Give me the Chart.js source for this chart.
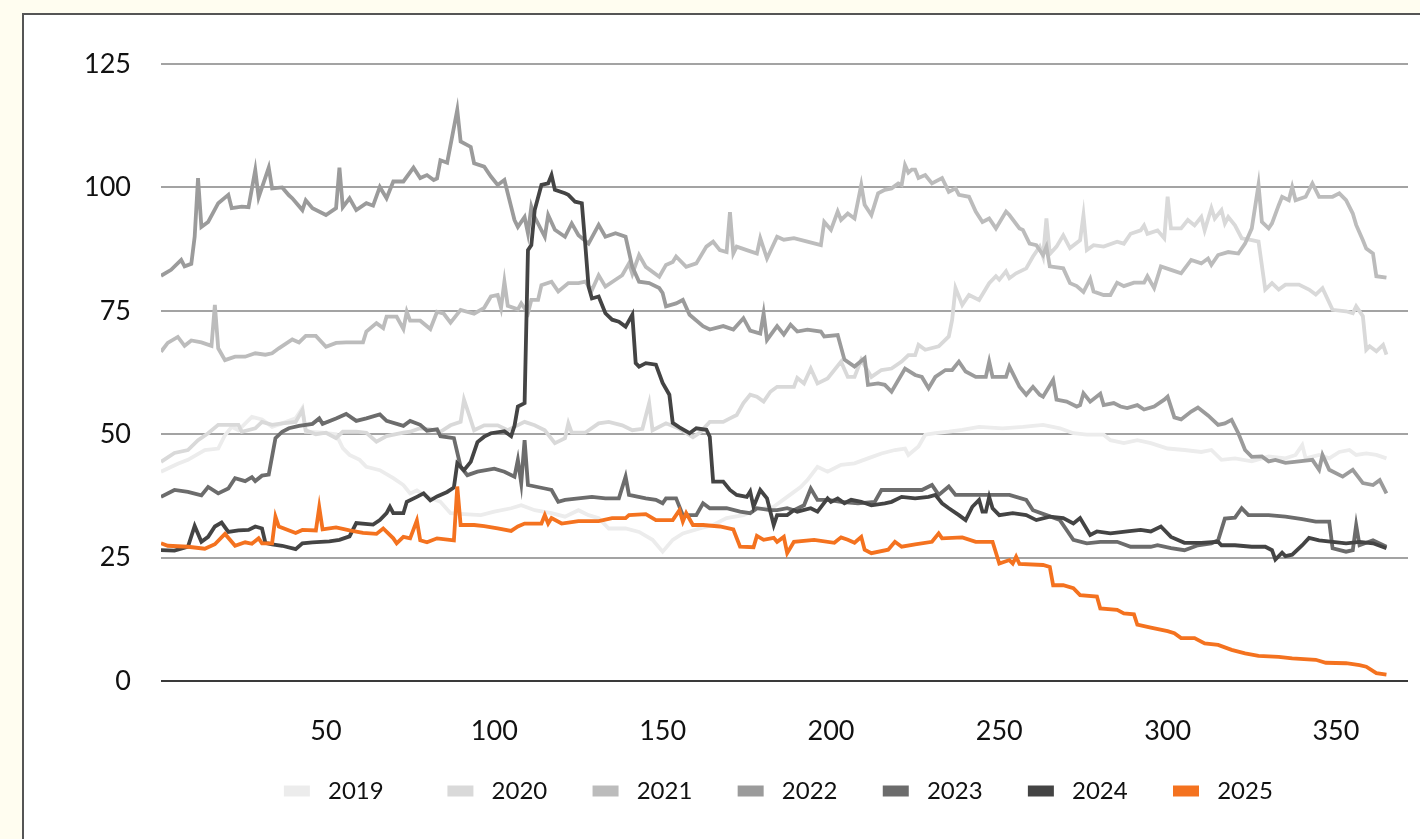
<!DOCTYPE html>
<html lang="en">
<head>
    <meta charset="UTF-8">
    <title>Yearly comparison</title>
    <script src="https://cdn.jsdelivr.net/npm/chart.js@4.4.8/dist/chart.umd.min.js"></script>
    <style>
        html, body {
            margin: 0;
            padding: 0;
            background-color: #fffdf0;
            overflow: hidden;
        }
        #frame {
            position: absolute;
            left: 22px;
            top: 13px;
            width: 1500px;
            height: 900px;
            background: #ffffff;
            border: 2px solid #555555;
        }
        #myChart {
            position: absolute;
            left: 0;
            top: 0;
        }
    </style>
</head>
<body>
    <div id="frame"></div>
    <canvas id="myChart" width="1420" height="839"></canvas>

<script>

    const years = ['2019', '2020', '2021', '2022', '2023', '2024', '2025']
    const colors = ['#ececec', '#d9d9d9', '#bcbcbc', '#9b9b9b', '#6c6c6c', '#444444', '#f4721f']
    const yTicks = [0, 25, 50, 75, 100, 125]
    const xTicks = [50, 100, 150, 200, 250, 300, 350]

    const d2019 = [1, 6, 9, 14, 18, 20, 22, 24, 28, 31, 34, 37, 41, 43, 44, 49, 53, 55, 57, 60, 62, 66, 70, 73, 75, 77, 80, 84, 87, 91, 96, 100, 105, 108, 112, 117, 121, 125, 128, 131, 134, 139, 143, 147, 150, 153, 156, 161, 165, 169, 174, 178, 183, 187, 191, 193, 196, 199, 203, 207, 211, 215, 219, 222, 223, 226, 228, 231, 235, 239, 244, 251, 257, 263, 268, 272, 276, 281, 283, 287, 291, 295, 300, 305, 310, 313, 316, 320, 325, 330, 335, 338, 340, 341, 345, 348, 351, 354, 356, 359, 362, 365]
    const v2019 = [42.4, 44.0, 44.8, 46.8, 47.1, 49.8, 51.5, 50.8, 53.5, 53, 51.5, 52.2, 53.2, 55.3, 50.5, 50.3, 50, 47.2, 45.8, 44.8, 43.4, 42.7, 41.1, 39.7, 38, 38.6, 37.3, 36.3, 34, 33.8, 33.6, 34.3, 35, 35.6, 34.6, 34, 33.3, 34.6, 33.6, 33, 30.9, 30.9, 30.2, 28.6, 26.2, 28.6, 29.9, 30.9, 31.6, 33, 33.6, 34.8, 35.3, 37.3, 39.3, 40.7, 43.4, 42.4, 43.8, 44.1, 45.1, 46.1, 46.8, 47.1, 45.8, 47.5, 49.9, 50.2, 50.5, 50.9, 51.5, 51.2, 51.5, 51.9, 51.2, 50.2, 49.9, 49.9, 48.8, 48.2, 48.8, 48.2, 47.1, 46.8, 46.4, 46.8, 44.8, 45.1, 44.5, 45.5, 45.1, 45.8, 47.8, 45.1, 45.8, 45.1, 46.4, 46.8, 45.8, 46.1, 45.8, 45.1]

    const d2020 = [1, 5, 9, 12, 15, 18, 22, 24, 25, 29, 31, 34, 37, 41, 43, 44, 47, 50, 53, 55, 59, 62, 65, 68, 73, 75, 78, 81, 84, 87, 90, 91, 93, 94, 97, 101, 104, 109, 112, 115, 118, 121, 122, 123, 127, 131, 134, 138, 141, 144, 146, 147, 151, 155, 159, 161, 164, 168, 170, 172, 174, 176, 178, 180, 182, 184, 186, 189, 190, 192, 194, 196, 199, 203, 205, 207, 209, 212, 215, 218, 221, 223, 225, 226, 228, 232, 235, 236, 237, 239, 241, 244, 247, 249, 250, 252, 253, 255, 258, 260, 262, 263, 264, 265, 267, 269, 271, 274, 275, 276, 278, 281, 285, 287, 289, 292, 293, 294, 297, 299, 300, 301, 304, 306, 308, 310, 311, 313, 314, 316, 317, 318, 320, 322, 325, 327, 329, 331, 333, 335, 339, 342, 344, 346, 349, 353, 355, 356, 358, 359, 360, 362, 364, 365]
    const v2020 = [44.4, 46.2, 46.8, 48.8, 50.2, 51.9, 51.9, 51.9, 50.5, 51.2, 52.5, 51.9, 52.2, 52.5, 54.9, 50.8, 50, 50.3, 49.2, 50.5, 50.5, 50.3, 48.5, 49.6, 50.3, 50.5, 51.2, 51, 50.5, 51.8, 52.5, 57, 52.9, 50.8, 51.8, 51.8, 50.8, 52.5, 51.8, 50.8, 48.2, 49.2, 52.2, 50.3, 50.3, 52.2, 52.5, 51.8, 50.8, 51.1, 56.3, 50.8, 52.2, 51.1, 49.4, 50.3, 52.5, 52.5, 53.2, 53.9, 56.3, 58, 57.6, 56.6, 58.6, 59.6, 59.6, 59.6, 61.4, 60.3, 63.3, 60.3, 61.3, 64.7, 61.6, 61.6, 65.1, 61.6, 63, 63.3, 64.7, 66, 66, 68.1, 67.1, 67.8, 69.8, 73.2, 79.6, 76.2, 78.2, 77.2, 80.6, 82, 81.3, 83, 81.6, 82.6, 83.6, 86, 88, 86, 93.7, 86.5, 88, 90.3, 87.7, 89.3, 94.4, 87.3, 88.3, 88, 89, 88.6, 90.6, 91.3, 92.3, 90.6, 91.3, 89.7, 98.1, 91.7, 91.7, 93.4, 92.3, 94, 91.3, 95.8, 93.7, 95.4, 92.7, 94, 92.3, 89.7, 89.3, 89, 79.3, 80.6, 79.3, 80.3, 80.3, 79.3, 78.3, 79.6, 75.2, 74.9, 74.5, 75.9, 73.9, 67.1, 67.8, 66.8, 68.1, 66.1]

    const d2021 = [1, 3, 6, 8, 10, 13, 16, 17, 18, 20, 23, 26, 29, 32, 34, 36, 40, 42, 44, 47, 50, 53, 56, 61, 62, 65, 67, 68, 71, 73, 74, 75, 78, 81, 83, 85, 87, 90, 94, 97, 99, 101, 102, 103, 104, 107, 108, 110, 111, 113, 114, 117, 119, 122, 125, 127, 129, 131, 133, 136, 138, 140, 141, 143, 145, 149, 151, 153, 154, 157, 160, 163, 165, 167, 169, 170, 171, 172, 175, 178, 179, 181, 184, 186, 189, 193, 197, 198, 200, 202, 203, 205, 207, 209, 210, 212, 214, 216, 218, 220, 221, 222, 223, 224, 225, 226, 228, 230, 233, 235, 237, 238, 241, 243, 245, 247, 249, 252, 253, 256, 257, 259, 261, 263, 264, 265, 269, 271, 273, 275, 277, 278, 281, 283, 285, 287, 290, 293, 294, 296, 298, 301, 304, 307, 310, 312, 313, 315, 318, 321, 323, 325, 327, 328, 330, 331, 333, 334, 336, 337, 338, 341, 343, 345, 349, 351, 353, 355, 356, 358, 359, 361, 362, 365]
    const v2021 = [66.7, 68.5, 69.7, 67.9, 69, 68.6, 67.9, 76.2, 67.4, 65, 65.7, 65.7, 66.4, 66.1, 66.4, 67.4, 69.2, 68.6, 69.9, 69.9, 67.7, 68.5, 68.6, 68.6, 70.8, 72.5, 71.5, 73.8, 73.8, 71.3, 74.8, 73, 73, 71.3, 74.8, 74.4, 72.6, 75.2, 74.4, 75.6, 77.9, 78.2, 75.6, 80.9, 76, 75.3, 76.5, 74.5, 77.2, 77.2, 80.2, 80.9, 78.9, 80.6, 80.6, 80.9, 79.2, 82.2, 79.9, 81.3, 82.2, 84.6, 82.5, 86.3, 83.9, 81.9, 84.3, 84.9, 86, 83.9, 84.6, 88, 89, 87.3, 86.9, 95, 86.6, 88, 87.3, 86.6, 89.7, 85.6, 90, 89.4, 89.7, 89, 88.3, 93, 91.4, 95.1, 93.4, 94.7, 93.7, 100.5, 96.5, 94.4, 98.8, 99.5, 99.8, 100.8, 100.5, 104.5, 103, 103.6, 103.6, 101.9, 102.5, 100.8, 101.9, 99.1, 99.8, 98.5, 98.1, 95.1, 93, 93.7, 91.7, 95.1, 94.4, 91.7, 91.4, 88.6, 88.3, 86.3, 88, 84, 83.6, 80.6, 80, 78.8, 81.5, 78.9, 78.2, 78.2, 80.7, 80, 80.7, 80.7, 82, 79.6, 84, 83.3, 82.6, 85.3, 84.6, 85.6, 84.3, 86.3, 86.9, 86.6, 88.6, 91.7, 100.5, 93, 91.7, 92.7, 96.4, 98.1, 97.4, 100.1, 97.4, 98.1, 100.8, 98.1, 98.1, 98.8, 97.4, 94.7, 92.4, 89.3, 87.6, 86.6, 82, 81.7]

    const d2022 = [1, 4, 7, 8, 10, 11, 12, 13, 15, 18, 21, 22, 25, 27, 29, 30, 33, 34, 37, 39, 40, 43, 44, 46, 50, 53, 54, 55, 57, 59, 62, 64, 66, 68, 70, 73, 76, 78, 80, 82, 83, 84, 86, 89, 90, 93, 94, 97, 99, 101, 103, 106, 107, 109, 110, 111, 112, 115, 116, 118, 121, 123, 125, 128, 131, 133, 136, 139, 141, 143, 146, 149, 150, 151, 154, 156, 158, 162, 164, 168, 171, 174, 176, 179, 180, 181, 184, 186, 188, 190, 193, 197, 198, 202, 204, 207, 210, 211, 214, 216, 218, 222, 225, 227, 229, 231, 234, 236, 238, 240, 243, 246, 247, 248, 252, 253, 256, 258, 260, 262, 263, 266, 267, 270, 273, 274, 275, 277, 280, 281, 284, 286, 288, 291, 293, 296, 299, 300, 302, 304, 307, 309, 312, 315, 317, 319, 321, 323, 325, 328, 330, 332, 335, 339, 343, 345, 346, 348, 352, 355, 358, 361, 363, 365]
    const v2022 = [82.1, 83.3, 85.3, 84, 84.5, 90, 101.9, 92, 93, 96.8, 98.5, 95.8, 96.1, 96, 103.5, 98, 104, 99.8, 100, 98.4, 97.8, 95.4, 97.4, 95.8, 94.4, 95.8, 104, 96, 97.8, 95.4, 96.8, 96.3, 100.1, 97.8, 101.2, 101.2, 104, 101.9, 102.5, 101.5, 101.8, 105.5, 105, 115.7, 109.3, 108.2, 104.9, 104.2, 102.2, 100.5, 101.5, 93.4, 92, 94, 90.7, 96.1, 94, 90, 94.4, 91.4, 90, 92.7, 90.3, 88.6, 92.4, 90, 90.7, 90, 83.9, 80.9, 80.6, 79.6, 78.6, 75.9, 76.5, 77.2, 74.2, 71.9, 71.2, 71.9, 71.2, 73.5, 71, 70.4, 74.5, 69.1, 71.9, 70.2, 72.2, 70.8, 71.2, 70.8, 69.8, 70.1, 65.1, 63.7, 65.4, 60, 60.3, 60, 58.6, 63.3, 62, 61.6, 59.3, 61.6, 63, 63, 64.7, 62.7, 61.6, 61.6, 64.7, 61.6, 61.6, 63.7, 59.6, 58, 59.6, 58, 57.6, 61, 57, 56.6, 55.6, 55.9, 58.3, 56.6, 58.2, 55.9, 56.3, 55.6, 55.3, 55.9, 55, 55.6, 57, 57.6, 53.4, 53, 54.6, 55.4, 53.8, 51.9, 52.2, 52.9, 50.2, 46.8, 45.4, 45.5, 44.5, 44.8, 44.2, 44.5, 44.8, 42.8, 45.8, 42.8, 41.4, 42.8, 40.1, 39.7, 40.7, 38]

    const d2023 = [1, 5, 9, 13, 15, 18, 21, 23, 26, 28, 29, 31, 33, 35, 37, 39, 42, 46, 48, 49, 53, 56, 59, 62, 66, 68, 73, 75, 78, 80, 83, 84, 88, 90, 92, 95, 100, 103, 106, 107, 108, 109, 110, 115, 117, 119, 121, 125, 129, 133, 137, 139, 140, 145, 148, 150, 151, 154, 156, 160, 162, 164, 169, 173, 176, 178, 182, 184, 187, 189, 192, 194, 196, 199, 203, 208, 213, 215, 218, 223, 227, 230, 232, 235, 237, 243, 249, 253, 258, 260, 264, 268, 270, 272, 276, 280, 285, 289, 295, 297, 301, 305, 309, 313, 315, 317, 320, 322, 324, 330, 335, 340, 344, 348, 349, 353, 355, 356, 357, 361, 365]
    const v2023 = [37.3, 38.7, 38.3, 37.6, 39.3, 38, 39, 41.1, 40.5, 41.3, 40.5, 41.6, 41.8, 49.2, 50.5, 51.2, 51.7, 52.1, 53.2, 52.1, 53.2, 54.1, 52.7, 53.2, 54, 52.7, 51.7, 52.7, 51.9, 50.7, 51, 49.6, 49.2, 43.4, 41.7, 42.4, 43, 42.4, 41.4, 44.8, 40.1, 48.8, 39.7, 39, 38.7, 36.3, 36.7, 37, 37.3, 37, 37, 41.4, 37.7, 37, 36.7, 36, 37, 37, 33.6, 33.6, 36, 35, 35, 34.3, 34, 35, 34.6, 34.6, 35, 34.6, 35.6, 39, 36.7, 36.7, 36.3, 36, 36.3, 38.7, 38.7, 38.7, 38.7, 39.7, 37.7, 39.4, 37.7, 37.7, 37.7, 37.7, 36.7, 34.6, 33.6, 32.6, 30.6, 28.6, 27.9, 28.2, 28.2, 27.2, 27.2, 27.5, 26.9, 26.5, 27.5, 27.9, 28.5, 32.9, 33.1, 35, 33.6, 33.6, 33.3, 32.8, 32.3, 32.3, 26.9, 26.2, 26.5, 31.6, 27.5, 28.5, 27.2]

    const d2024 = [1, 5, 9, 11, 13, 15, 17, 19, 21, 24, 27, 29, 31, 32, 34, 37, 41, 43, 46, 51, 54, 57, 59, 64, 66, 68, 69, 70, 73, 74, 77, 79, 81, 83, 86, 88, 89, 91, 93, 95, 97, 99, 103, 105, 106, 107, 109, 110, 111, 112, 114, 116, 117, 118, 121, 122, 124, 126, 127, 128, 129, 131, 133, 135, 137, 139, 141, 142, 143, 145, 148, 150, 152, 153, 155, 158, 160, 163, 164, 165, 168, 170, 172, 175, 176, 177, 179, 181, 183, 184, 187, 189, 190, 194, 196, 199, 200, 202, 204, 206, 209, 212, 216, 218, 221, 225, 229, 231, 233, 235, 238, 240, 242, 244, 245, 246, 247, 248, 250, 254, 258, 261, 265, 269, 272, 274, 277, 279, 283, 288, 292, 295, 298, 301, 305, 310, 315, 316, 320, 325, 329, 331, 332, 334, 335, 337, 340, 342, 345, 349, 353, 357, 361, 365]
    const v2024 = [26.5, 26.4, 27.2, 31.4, 28.2, 29.2, 31.3, 32.1, 30.2, 30.5, 30.6, 31.3, 30.9, 28, 27.7, 27.4, 26.7, 27.9, 28.1, 28.3, 28.6, 29.3, 32, 31.7, 32.6, 34, 35.3, 34, 34, 36.3, 37.3, 38, 36.6, 37.4, 38.3, 39.2, 44.1, 42.7, 44.4, 48.4, 49.5, 50.2, 50.6, 49.6, 51.7, 55.6, 56.3, 87.3, 88.3, 95.4, 100.5, 100.8, 102.5, 99.5, 98.8, 98.5, 97.1, 96.8, 88.6, 79.9, 77.5, 77.9, 74.5, 73.2, 72.8, 71.8, 74.2, 64.4, 63.7, 64.4, 64.1, 60.4, 58, 52.3, 51.4, 50.2, 51.2, 50.9, 49.5, 40.4, 40.4, 38.7, 37.7, 37.3, 38.4, 35.3, 38.7, 37, 31.6, 33.6, 33.6, 34.6, 34.3, 35, 34.3, 37, 36.3, 37, 36, 36.7, 36.3, 35.6, 36, 36.3, 37.3, 37, 37.3, 37.7, 36, 35, 33.6, 32.6, 35.3, 36.7, 34.3, 34.3, 37.3, 35, 33.6, 34, 33.6, 32.6, 33.3, 33, 31.9, 33, 29.6, 30.3, 29.9, 30.3, 30.6, 30.3, 31.3, 29.2, 28, 28, 28.2, 27.5, 27.5, 27.2, 27.2, 26.5, 24.6, 26, 25.3, 25.6, 27.5, 29, 28.5, 28.2, 27.9, 28.2, 27.9, 26.9]

    const d2025 = [1, 3, 9, 14, 17, 20, 23, 26, 28, 30, 31, 34, 35, 36, 41, 43, 47, 48, 49, 53, 57, 61, 65, 67, 70, 71, 73, 75, 77, 78, 80, 83, 88, 89, 90, 94, 97, 101, 105, 107, 109, 114, 115, 116, 117, 120, 125, 131, 135, 139, 140, 145, 148, 153, 155, 156, 157, 159, 162, 167, 171, 173, 177, 178, 180, 183, 184, 186, 187, 189, 195, 201, 203, 205, 207, 209, 210, 212, 217, 219, 221, 225, 230, 232, 233, 239, 243, 248, 250, 253, 254, 255, 256, 263, 265, 266, 269, 272, 274, 279, 280, 285, 287, 290, 291, 295, 300, 302, 304, 308, 311, 315, 319, 323, 327, 333, 337, 344, 347, 353, 357, 359, 362, 365]
    const v2025 = [27.9, 27.4, 27.2, 26.8, 27.7, 29.8, 27.4, 28.1, 27.8, 28.9, 27.9, 27.9, 33.3, 31.3, 30, 30.6, 30.5, 35.2, 30.7, 31.1, 30.5, 30, 29.8, 30.9, 28.9, 27.9, 29.2, 28.9, 32.5, 28.5, 28.1, 28.9, 28.5, 39.4, 31.6, 31.6, 31.4, 30.9, 30.4, 31.3, 31.9, 31.9, 33.6, 31.9, 33, 31.9, 32.4, 32.4, 33, 33, 33.6, 33.8, 32.6, 32.6, 34.6, 32.3, 34, 31.6, 31.6, 31.3, 30.7, 27.2, 27.1, 29.4, 28.6, 29, 28.2, 29.2, 25.9, 28.2, 28.6, 28, 29.1, 28.6, 28, 29.2, 26.6, 25.9, 26.6, 28.2, 27.2, 27.7, 28.2, 29.9, 28.9, 29.1, 28.2, 28.2, 23.8, 24.5, 23.8, 25.2, 23.7, 23.5, 23.1, 19.4, 19.4, 18.8, 17.4, 17.1, 14.7, 14.4, 13.7, 13.5, 11.4, 10.8, 10.1, 9.7, 8.7, 8.7, 7.6, 7.3, 6.3, 5.6, 5.1, 4.9, 4.6, 4.3, 3.7, 3.6, 3.2, 2.9, 1.6, 1.3]

    const days = [d2019, d2020, d2021, d2022, d2023, d2024, d2025]
    const values = [v2019, v2020, v2021, v2022, v2023, v2024, v2025]

    const tickFont = { family: 'Lato, sans-serif', size: 27, lineHeight: 1 }
    const legendFont = { family: 'Lato, sans-serif', size: 24 }

    const datasets = years.map((y, i) => ({
        label: y,
        data: days[i].map((d, j) => ({ x: d, y: values[i][j] })),
        borderColor: colors[i],
        backgroundColor: colors[i],
        borderWidth: 3.8,
        pointRadius: 0,
        tension: 0,
        order: years.length - 1 - i,  // 2025 drawn on top
    }))

    const ctx = document.getElementById('myChart')
    const chart = new Chart(ctx, {
        type: 'line',
        data: { datasets: datasets },
        options: {
            responsive: false,
            animation: false,
            layout: {
                padding: { left: 0, right: 12, top: 64, bottom: 26 }
            },
            plugins: {
                tooltip: { enabled: false },
                legend: {
                    position: 'bottom',
                    fullSize: false,
                    labels: {
                        color: '#111111',
                        font: legendFont,
                        boxWidth: 26,
                        boxHeight: 11,
                        padding: 33,
                        sort: (a, b) => a.datasetIndex - b.datasetIndex,
                        generateLabels: (c) => {
                            const items = Chart.defaults.plugins.legend.labels.generateLabels(c)
                            items.forEach((it, i) => {
                                // spaces widen the gap to the box and between items
                                const tail = i === items.length - 1 ? '     ' : '  '
                                it.text = ' ' + it.text + tail
                                it.lineWidth = 0
                            })
                            return items
                        }
                    }
                }
            },
            scales: {
                x: {
                    type: 'linear',
                    min: 1,
                    max: 371.4,
                    grid: { display: false, drawTicks: false },
                    border: { display: false },
                    afterBuildTicks: (axis) => {
                        axis.ticks = xTicks.map(v => ({ value: v }))
                    },
                    afterFit: (axis) => {
                        axis.height = 65
                    },
                    ticks: {
                        color: '#111111',
                        font: tickFont,
                        padding: 37,
                        maxRotation: 0,
                        autoSkip: false
                    }
                },
                y: {
                    min: 0,
                    max: 125,
                    afterBuildTicks: (axis) => {
                        axis.ticks = yTicks.map(v => ({ value: v }))
                    },
                    afterFit: (axis) => {
                        axis.width = 161
                    },
                    border: { display: false },
                    grid: {
                        drawTicks: false,
                        lineWidth: 2,
                        color: (c) => c.tick && c.tick.value === 0 ? '#3a3a3a' : '#a3a3a3'
                    },
                    ticks: {
                        color: '#111111',
                        font: tickFont,
                        padding: 30
                    }
                }
            }
        }
    })

</script>
</body>
</html>
